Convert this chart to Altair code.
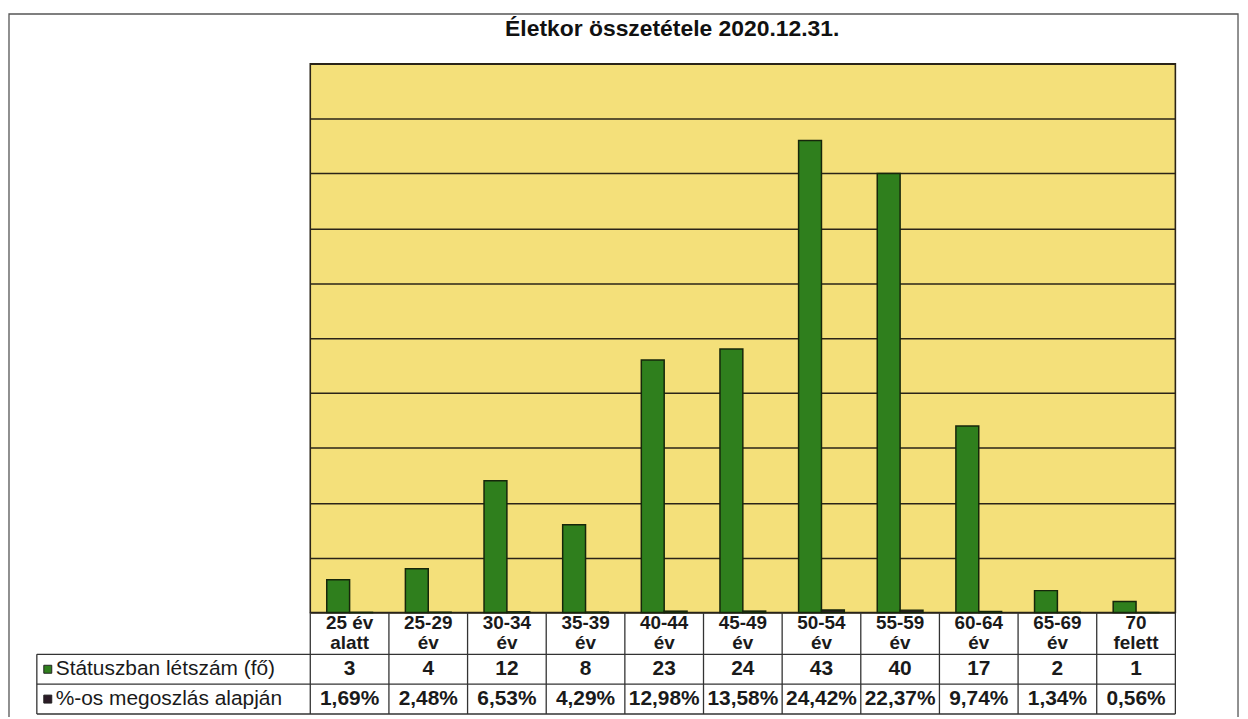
import altair as alt
import pandas as pd

# ---------------- data ----------------
title_text = "Életkor összetétele 2020.12.31."
categories = ["25 év alatt", "25-29 év", "30-34 év", "35-39 év", "40-44 év",
              "45-49 év", "50-54 év", "55-59 év", "60-64 év", "65-69 év", "70 felett"]
label_line1 = ["25 év", "25-29", "30-34", "35-39", "40-44", "45-49", "50-54", "55-59", "60-64", "65-69", "70"]
label_line2 = ["alatt", "év", "év", "év", "év", "év", "év", "év", "év", "év", "felett"]
series = ["Státuszban létszám (fő)", "%-os megoszlás alapján"]
headcount = [3, 4, 12, 8, 23, 24, 43, 40, 17, 2, 1]
percent = [1.69, 2.48, 6.53, 4.29, 12.98, 13.58, 24.42, 22.37, 9.74, 1.34, 0.56]
y_ticks = [0, 5, 10, 15, 20, 25, 30, 35, 40, 45, 50]
series_colors = ["#2f7f1d", "#2b1b26"]

# ---------------- tables ----------------
rows = []
for c, n, p in zip(categories, headcount, percent):
    rows.append({"cat": c, "series": series[0], "value": n})
    rows.append({"cat": c, "series": series[1], "value": p / 100.0})
bars_df = pd.DataFrame(rows)

table_df = pd.DataFrame({
    "cat": categories,
    "l1": label_line1,
    "l2": label_line2,
    "count": [str(n) for n in headcount],
    "pct": [f"{p:.2f}".replace(".", ",") + "%" for p in percent],
})
one = pd.DataFrame({"k": [0]})

W, H = 870, 552
FONT = "Liberation Sans"
LINE = "#2a2418"

X_cat = alt.X("cat:N", scale=alt.Scale(domain=categories, paddingInner=0, paddingOuter=0),
              axis=None, sort=categories)

# outer frame
frame = alt.Chart(one).mark_rect(fill="transparent", stroke="#555555", strokeWidth=1.3).encode(
    x=alt.value(-303), x2=alt.value(933), y=alt.value(-50), y2=alt.value(760))

bars = alt.Chart(bars_df).mark_bar(stroke="#16260b", strokeWidth=1.5).encode(
    x=X_cat,
    xOffset=alt.XOffset("series:N", scale=alt.Scale(domain=series, paddingInner=0, paddingOuter=0.72),
                        sort=series),
    y=alt.Y("value:Q", scale=alt.Scale(domain=[0, 50], nice=False, zero=True),
            axis=alt.Axis(values=y_ticks, labels=False, ticks=False, domain=False, title=None,
                          grid=True, gridColor=LINE, gridWidth=1.5, gridOpacity=1)),
    color=alt.Color("series:N", scale=alt.Scale(domain=series, range=series_colors), legend=None),
)

title = alt.Chart(one).mark_text(font=FONT, fontSize=23, fontWeight="bold", color="#111111",
                                 align="center", baseline="middle").encode(
    x=alt.value(364), y=alt.value(-35), text=alt.value(title_text))

def cell_text(field, ypos, size=21):
    return alt.Chart(table_df).mark_text(font=FONT, fontSize=size, fontWeight="bold", color="#1a1a1a",
                                         baseline="middle").encode(
        x=X_cat, y=alt.value(ypos), text=f"{field}:N")

header1 = cell_text("l1", 563, 19)
header2 = cell_text("l2", 583, 19)
count_txt = cell_text("count", 609)
pct_txt = cell_text("pct", 639)

vlines = alt.Chart(table_df).mark_rule(color="#333333", strokeWidth=1.3).encode(
    x=alt.X("cat:N", bandPosition=0, scale=alt.Scale(domain=categories, paddingInner=0, paddingOuter=0),
            axis=None, sort=categories),
    y=alt.value(H), y2=alt.value(654))

def rule(x, x2, y, y2):
    return alt.Chart(one).mark_rule(color="#333333", strokeWidth=1.3).encode(
        x=alt.value(x), x2=alt.value(x2), y=alt.value(y), y2=alt.value(y2))

grid_rules = [
    rule(W, W, H, 654),
    rule(-275, -275, 594, 654),
    rule(-275, W, 594, 594),
    rule(-275, W, 624, 624),
    rule(-275, W, 654, 654),
]

lab1 = alt.Chart(one).mark_text(font=FONT, fontSize=21, color="#1a1a1a", align="left",
                                baseline="middle").encode(
    x=alt.value(-256), y=alt.value(609), text=alt.value(series[0]))
lab2 = alt.Chart(one).mark_text(font=FONT, fontSize=21, color="#1a1a1a", align="left",
                                baseline="middle").encode(
    x=alt.value(-256), y=alt.value(639), text=alt.value(series[1]))
sq1 = alt.Chart(one).mark_square(size=64, stroke="#222222", strokeWidth=1, opacity=1).encode(
    x=alt.value(-264), y=alt.value(609), color=alt.value(series_colors[0]))
sq2 = alt.Chart(one).mark_square(size=64, stroke="#222222", strokeWidth=1, opacity=1).encode(
    x=alt.value(-264), y=alt.value(639), color=alt.value(series_colors[1]))

chart = alt.layer(
    frame, bars, header1, header2, count_txt, pct_txt, vlines, *grid_rules,
    lab1, lab2, sq1, sq2, title
).properties(
    width=W, height=H,
    autosize=alt.AutoSizeParams(type="none"),
    padding={"left": 304, "top": 54, "right": 65, "bottom": 103},
    background="white",
).configure_view(
    fill="#f4e07a", stroke=LINE, strokeWidth=1.6
)

chart.save("out.html", embed_options={"renderer": "svg", "actions": False})
